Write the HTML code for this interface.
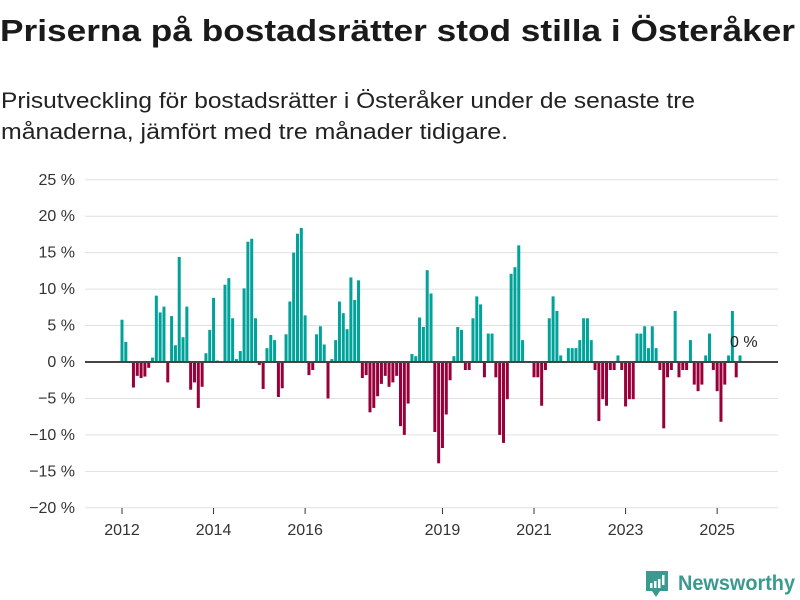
<!DOCTYPE html>
<html><head><meta charset="utf-8"><style>
body{margin:0;background:#fff;width:800px;height:600px;overflow:hidden;font-family:"Liberation Sans",sans-serif}
svg{display:block}
</style></head><body>
<svg id="chart" width="800" height="600" viewBox="0 0 800 600">
<text x="0" y="41" font-size="31" font-weight="bold" fill="#1a1a1a" textLength="795" lengthAdjust="spacingAndGlyphs">Priserna på bostadsrätter stod stilla i Österåker</text>
<text x="1" y="108" font-size="22" fill="#222" textLength="694" lengthAdjust="spacingAndGlyphs">Prisutveckling för bostadsrätter i Österåker under de senaste tre</text>
<text x="1" y="139" font-size="22" fill="#222" textLength="507" lengthAdjust="spacingAndGlyphs">månaderna, jämfört med tre månader tidigare.</text>
<g id="grid"></g>
<g id="ylabels"></g>
<g id="bars"></g>
<line x1="85" x2="778" y1="362" y2="362" stroke="#444" stroke-width="2"/>
<g id="xlabels"></g>
<text x="730" y="347" font-size="16" fill="#222">0 %</text>
<g>
<path d="M646 571h22v20h-8l-4 6l-4-6h-6z" fill="#3a9a8f"/>
<rect x="650" y="583" width="2.5" height="5" fill="#fff"/>
<rect x="654" y="581" width="2.5" height="7" fill="#fff"/>
<rect x="658" y="579" width="2.5" height="9" fill="#fff"/>
<rect x="662" y="575" width="2.5" height="10" fill="#fff"/>
<text x="678" y="590" font-size="21" font-weight="bold" fill="#3a9a8f" textLength="117" lengthAdjust="spacingAndGlyphs">Newsworthy</text>
</g>
</svg>
<script>
const values = [5.8,2.75,0,-3.5,-1.9,-2.2,-2.0,-0.8,0.6,9.1,6.8,7.6,-2.8,6.3,2.3,14.4,3.4,7.6,-3.8,-2.8,-6.3,-3.4,1.2,4.4,8.8,0.2,
0,10.6,11.5,6.0,0.4,1.5,10.1,16.5,16.9,6.0,-0.4,-3.7,1.9,3.7,3.0,-4.8,-3.6,3.8,8.3,15.0,17.6,18.4,6.4,-1.8,-1.1,3.8,
4.9,2.4,-5.0,0.4,3.0,8.3,6.7,4.5,11.6,8.5,11.2,-2.2,-1.8,-6.9,-6.3,-4.7,-3.0,-1.9,-3.4,-2.8,-1.9,-8.8,-10.0,-5.7,1.1,0.8,
6.1,4.8,12.6,9.4,-9.6,-13.9,-11.8,-7.2,-2.5,0.8,4.8,4.4,-1.1,-1.1,6.0,9.0,7.9,-2.1,3.9,3.9,-2.1,-10.0,-11.1,-5.1,12.1,13.0,
16.0,3.0,0,0,-2.1,-2.1,-6.0,-1.1,6.0,9.0,7.0,0.9,0,1.9,1.9,1.9,3.0,6.0,6.0,3.0,-1.1,-8.1,-5.1,-6.0,-1.1,-1.1,0.9,
-1.1,-6.1,-5.1,-5.1,3.9,3.9,4.9,1.9,4.9,1.9,-1.1,-9.1,-2.1,-1.1,7.0,-2.1,-1.1,-1.1,3.0,-3.1,-4.0,-3.1,0.9,3.9,-1.1,-4.0,
-8.2,-3.1,0.9,7.0,-2.1,0.9,0];
const startYear = 2012;
const yTicks = [25,20,15,10,5,0,-5,-10,-15,-20];
const xTickYears = [2012,2014,2016,2019,2021,2023,2025];

const NS="http://www.w3.org/2000/svg";
function y(v){return 362 - v*7.29;}
function x(monthIndex){return 122 + monthIndex*3.815;}
function mk(tag,attrs,parent){const e=document.createElementNS(NS,tag);for(const k in attrs)e.setAttribute(k,attrs[k]);parent.appendChild(e);return e;}
const grid=document.getElementById('grid'),yl=document.getElementById('ylabels'),bars=document.getElementById('bars'),xl=document.getElementById('xlabels');
yTicks.forEach(t=>{
  const l=mk('line',{x1:85,x2:778,y1:y(t),y2:y(t),stroke:'#e0e0e0','stroke-width':1},grid);
  
  
  const tx=mk('text',{x:75,y:y(t)+5,'text-anchor':'end','font-size':16,fill:'#333'},yl);
  tx.textContent=(t<0?'\u2212'+(-t):t)+' %';
  
  
});
values.forEach((v,i)=>{
  const top=v>=0?y(v):y(0), h=Math.abs(y(v)-y(0));
  const r=mk('rect',{x:x(i)-1.5,y:top,width:3,height:h,fill:v>=0?'#00a29a':'#99003a'},bars);
  
  
});
xTickYears.forEach(yr=>{
  const xi=x((yr-startYear)*12);
  const tk=mk('line',{x1:xi,x2:xi,y1:508,y2:514,stroke:'#333','stroke-width':1},xl);
  
  
  const tx=mk('text',{x:xi,y:535,'text-anchor':'middle','font-size':16,fill:'#333'},xl);
  tx.textContent=yr;
  
  
});
</script>
</body></html>
